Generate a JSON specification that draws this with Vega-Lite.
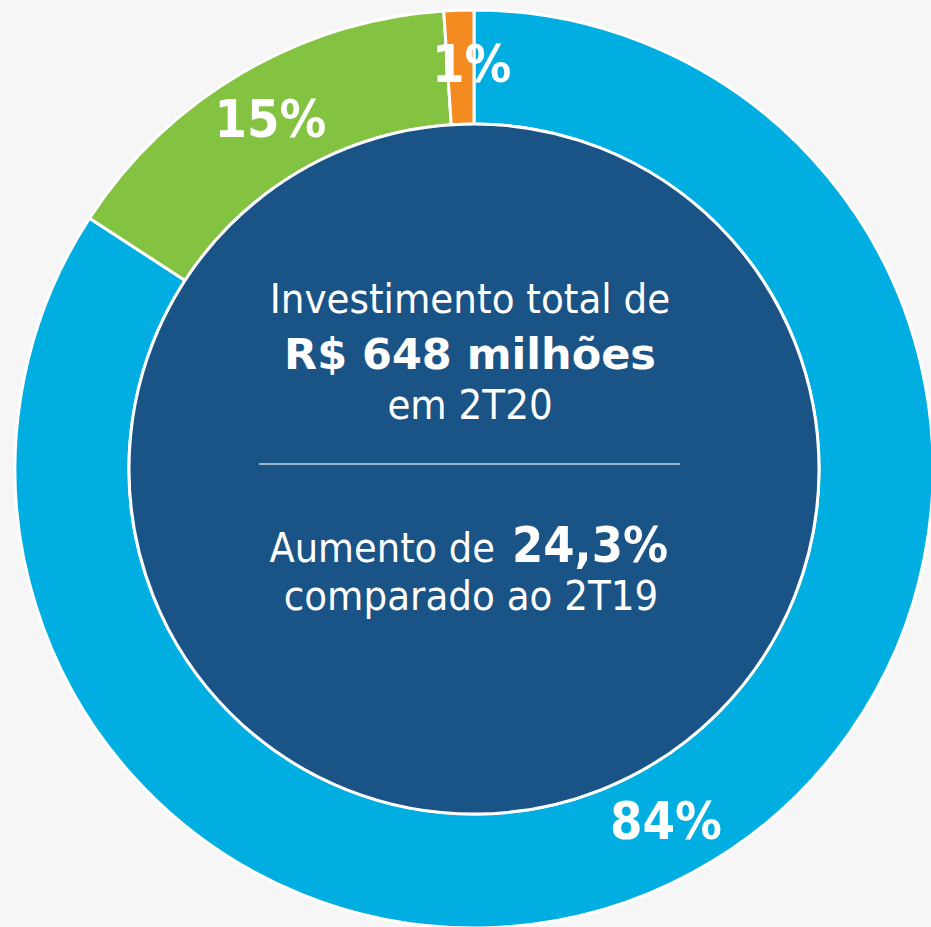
{
  "$schema": "https://vega.github.io/schema/vega-lite/v6.json",
  "width": 931,
  "height": 927,
  "autosize": {"type": "fit", "contains": "padding"},
  "padding": {"left": 17, "top": 11, "right": 0, "bottom": 0},
  "background": "#F6F6F6",
  "config": {"view": {"stroke": null}},
  "datasets": {
    "segments": [
      {"seq": 1, "segmento": "A", "valor": 84.2, "rotulo": "84%"},
      {"seq": 2, "segmento": "B", "valor": 14.75, "rotulo": "15%"},
      {"seq": 3, "segmento": "C", "valor": 1.05, "rotulo": "1%"}
    ],
    "centro": [{"total": 648}]
  },
  "layer": [
    {
      "data": {"name": "segments"},
      "mark": {"type": "arc", "outerRadius": 459, "innerRadius": 345, "stroke": "white", "strokeWidth": 3},
      "encoding": {
        "theta": {"field": "valor", "type": "quantitative", "stack": true},
        "order": {"field": "seq", "type": "quantitative"},
        "color": {"field": "segmento", "type": "nominal", "legend": null,
          "scale": {"domain": ["A", "B", "C"], "range": ["#00AEE1", "#84C341", "#F38B20"]}}
      }
    },
    {
      "data": {"name": "centro"},
      "mark": {"type": "arc", "outerRadius": 345, "fill": "#1A5385", "stroke": "white", "strokeWidth": 3},
      "encoding": {}
    },
    {
      "data": {"name": "segments"},
      "transform": [{"filter": "datum.seq < 3"}],
      "mark": {"type": "text", "radius": 403, "font": "DejaVu Sans Condensed", "fontWeight": "bold", "fontSize": 52, "fill": "white", "baseline": "middle", "align": "center"},
      "encoding": {
        "theta": {"field": "valor", "type": "quantitative", "stack": true},
        "order": {"field": "seq", "type": "quantitative"},
        "text": {"field": "rotulo", "type": "nominal"}
      }
    },
    {
      "data": {"name": "segments"},
      "mark": {"type": "text", "radius": 403, "font": "DejaVu Sans Condensed", "fontWeight": "bold", "fontSize": 52, "fill": "white", "baseline": "middle", "align": "center", "dx": 11, "opacity": 1},
      "encoding": {
        "theta": {"field": "valor", "type": "quantitative", "stack": true},
        "order": {"field": "seq", "type": "quantitative"},
        "text": {"field": "rotulo", "type": "nominal"},
        "opacity": {"condition": {"test": "datum.seq == 3", "value": 1}, "value": 0}
      }
    },
    {
      "data": {"values": [{"t": "Investimento total de"}]},
      "mark": {"type": "text", "font": "DejaVu Sans Condensed", "fontSize": 41.5, "fill": "white", "baseline": "alphabetic", "align": "center", "dx": -4, "dy": -156},
      "encoding": {"text": {"field": "t", "type": "nominal"}}
    },
    {
      "data": {"values": [{"t": "R$ 648 milhões"}]},
      "mark": {"type": "text", "font": "DejaVu Sans", "fontWeight": "bold", "fontSize": 43, "fill": "white", "baseline": "alphabetic", "align": "center", "dx": -4, "dy": -100},
      "encoding": {"text": {"field": "t", "type": "nominal"}}
    },
    {
      "data": {"values": [{"t": "em 2T20"}]},
      "mark": {"type": "text", "font": "DejaVu Sans Condensed", "fontSize": 41.5, "fill": "white", "baseline": "alphabetic", "align": "center", "dx": -4, "dy": -50},
      "encoding": {"text": {"field": "t", "type": "nominal"}}
    },
    {
      "data": {"name": "centro"},
      "mark": {"type": "rule", "stroke": "#C9D4E2", "strokeWidth": 1.5},
      "encoding": {
        "x": {"value": {"expr": "width/2 - 215"}},
        "x2": {"value": {"expr": "width/2 + 206"}},
        "y": {"value": {"expr": "height/2 - 5"}}
      }
    },
    {
      "data": {"values": [{"t": "Aumento de"}]},
      "mark": {"type": "text", "font": "DejaVu Sans Condensed", "fontSize": 41, "fill": "white", "baseline": "alphabetic", "align": "right", "dx": 21, "dy": 93},
      "encoding": {"text": {"field": "t", "type": "nominal"}}
    },
    {
      "data": {"values": [{"t": "24,3%"}]},
      "mark": {"type": "text", "font": "DejaVu Sans Condensed", "fontWeight": "bold", "fontSize": 50, "fill": "white", "baseline": "alphabetic", "align": "left", "dx": 38, "dy": 93},
      "encoding": {"text": {"field": "t", "type": "nominal"}}
    },
    {
      "data": {"values": [{"t": "comparado ao 2T19"}]},
      "mark": {"type": "text", "font": "DejaVu Sans Condensed", "fontSize": 41.5, "fill": "white", "baseline": "alphabetic", "align": "center", "dx": -3, "dy": 141},
      "encoding": {"text": {"field": "t", "type": "nominal"}}
    }
  ]
}
